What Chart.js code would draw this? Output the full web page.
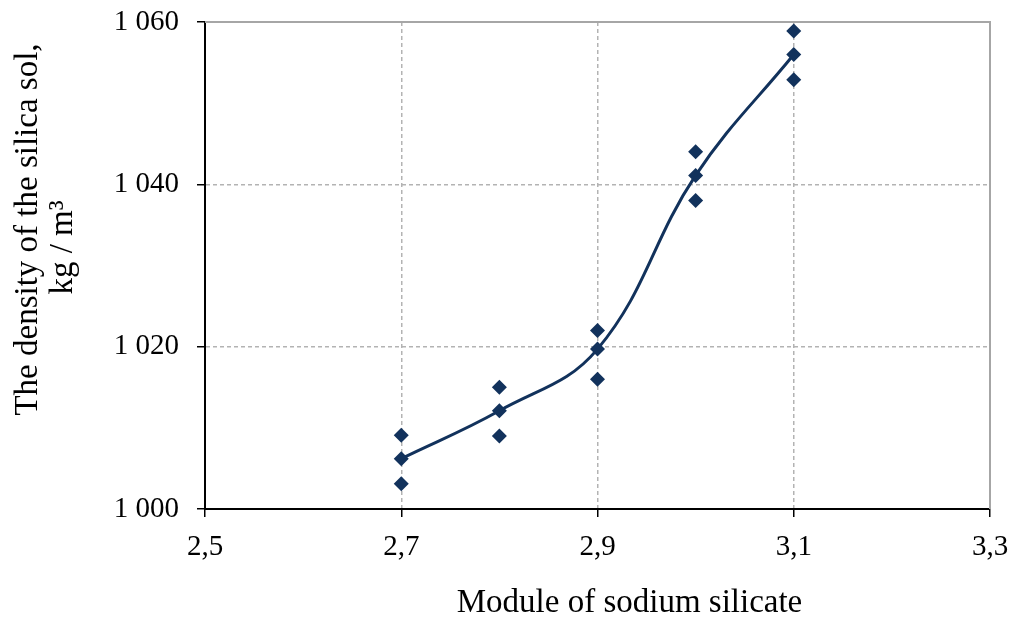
<!DOCTYPE html>
<html>
<head>
<meta charset="utf-8">
<script src="https://cdn.jsdelivr.net/npm/chart.js@4.4.1/dist/chart.umd.min.js"></script>
<style>
  html, body { margin: 0; padding: 0; background: #fff; }
  #wrap { width: 1014px; height: 622px; }
</style>
</head>
<body>
<div id="wrap"><canvas id="main-chart"></canvas></div>
<script>
// silicate module (x) and measured sol density (y)
const moduleValues = [2.7, 2.8, 2.9, 3.0, 3.1];
const densityMean  = [1006.2, 1012.1, 1019.7, 1041.1, 1056.0];
const densityHigh  = [1009.1, 1015.0, 1022.0, 1044.0, 1058.9];
const densityLow   = [1003.1, 1009.0, 1016.0, 1038.0, 1052.9];

const xTicks = [2.5, 2.7, 2.9, 3.1, 3.3];
const yTicks = [1000, 1020, 1040, 1060];

const xTitle = 'Module of sodium silicate';
const yTitle = ['The density of the silica sol,', 'kg / m³'];

const NAVY = '#12325c';
const FONT = 'Liberation Serif';

const toPoints = (ys) => moduleValues.map((x, i) => ({ x: x, y: ys[i] }));
const scatterPoints = [].concat(toPoints(densityHigh), toPoints(densityMean), toPoints(densityLow));

// grey frame on top and right side of the plot area
const frame = {
    id: 'frame',
    beforeDatasetsDraw(chart){
        const { ctx, chartArea: a } = chart;
        ctx.save();
        ctx.strokeStyle = '#a6a6a6';
        ctx.lineWidth = 2;
        ctx.beginPath();
        ctx.moveTo(a.left, a.top);
        ctx.lineTo(a.right, a.top);
        ctx.lineTo(a.right, a.bottom);
        ctx.stroke();
        ctx.restore();
    }
};

// axis titles, placed a bit off-centre like in the original figure
const axisTitles = {
    id: 'axisTitles',
    afterDraw(chart){
        const { ctx, chartArea: a } = chart;
        ctx.save();
        ctx.fillStyle = '#000';
        ctx.font = '33px "' + FONT + '"';
        ctx.textAlign = 'center';
        ctx.textBaseline = 'middle';
        ctx.fillText(xTitle, (a.left + a.right) / 2 + 32, 603);

        ctx.translate(28, (a.top + a.bottom) / 2 - 36);
        ctx.rotate(-Math.PI / 2);
        ctx.fillText(yTitle[0], 0, 0);
        ctx.fillText(yTitle[1], -18, 35);
        ctx.restore();
    }
};

const ctx = document.getElementById('main-chart').getContext('2d');
new Chart(ctx, {
    type: 'scatter',
    data: {
        datasets: [
            {
                label: 'mean',
                data: toPoints(densityMean),
                showLine: true,
                borderColor: NAVY,
                borderWidth: 3,
                tension: 0.4,
                pointRadius: 0
            },
            {
                label: 'points',
                data: scatterPoints,
                pointStyle: 'rectRot',
                pointRadius: 7.5,
                backgroundColor: NAVY,
                borderColor: NAVY,
                borderWidth: 0
            }
        ]
    },
    options: {
        responsive: true,
        maintainAspectRatio: false,
        animation: false,
        layout: { padding: { top: 22, right: 24, left: 8, bottom: 0 } },
        plugins: {
            legend: { display: false },
            tooltip: { enabled: false }
        },
        scales: {
            x: {
                type: 'linear',
                min: 2.5,
                max: 3.3,
                afterBuildTicks: (axis) => { axis.ticks = xTicks.map(v => ({ value: v })); },
                afterFit: (axis) => {
                    axis.height = 113;
                    axis.paddingLeft = 0;
                    axis.paddingRight = 0;
                },
                ticks: {
                    color: '#000',
                    font: { family: FONT, size: 29 },
                    padding: 13,
                    maxRotation: 0,
                    callback: (v) => v.toFixed(1).replace('.', ',')
                },
                grid: { color: '#b3b3b3', lineWidth: 1.5, tickColor: '#000', tickLength: 8 },
                border: { color: '#000', width: 2, dash: [4, 3] }
            },
            y: {
                min: 1000,
                max: 1060,
                afterBuildTicks: (axis) => { axis.ticks = yTicks.map(v => ({ value: v })); },
                afterFit: (axis) => {
                    axis.width = 197;
                    axis.paddingTop = 0;
                    axis.paddingBottom = 0;
                },
                ticks: {
                    color: '#000',
                    font: { family: FONT, size: 29 },
                    padding: 18,
                    callback: (v) => String(v).replace(/^(\d)(\d{3})$/, '$1 $2')
                },
                grid: { color: '#b3b3b3', lineWidth: 1.5, tickColor: '#000', tickLength: 8 },
                border: { color: '#000', width: 2, dash: [4, 3] }
            }
        }
    },
    plugins: [frame, axisTitles]
});
</script>
</body>
</html>
